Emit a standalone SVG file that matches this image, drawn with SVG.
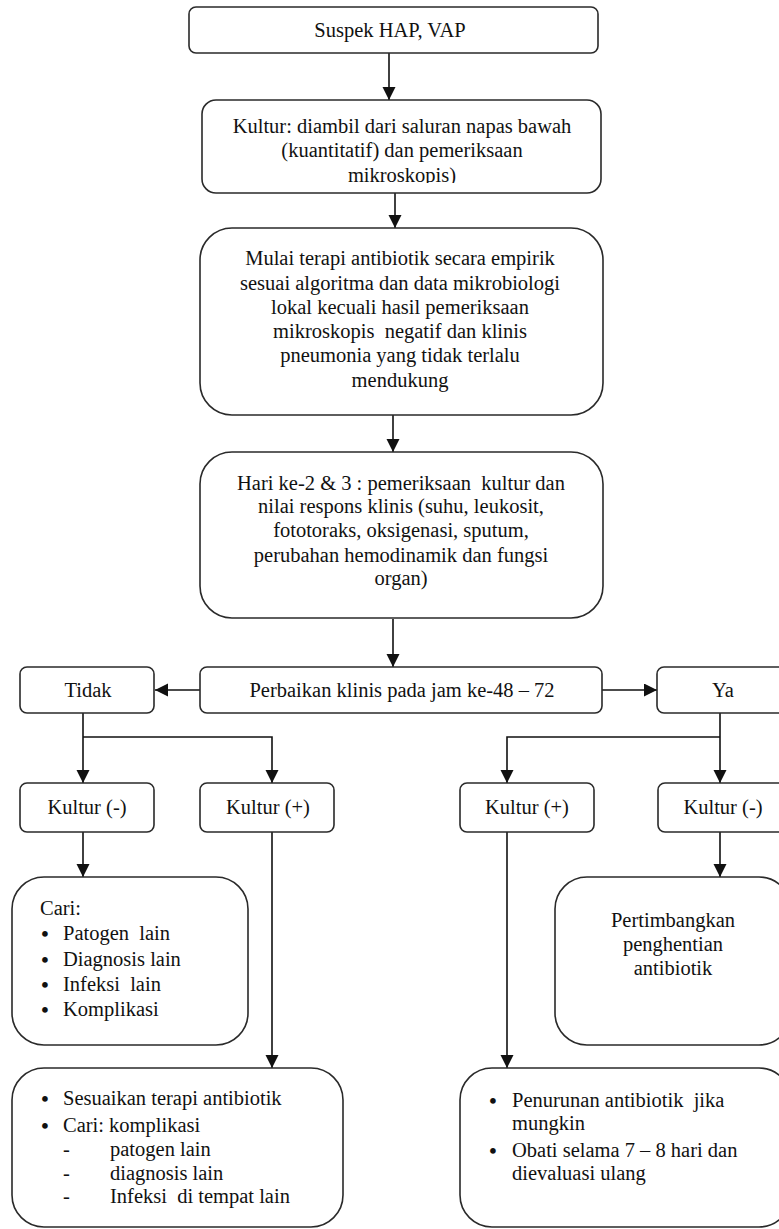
<svg xmlns="http://www.w3.org/2000/svg" width="779" height="1229" viewBox="0 0 779 1229">
<style>
.box{fill:#fff;stroke:#2a2a2a;stroke-width:1.6}
.t{font-family:"Liberation Serif","Times New Roman",serif;font-size:20.5px;fill:#111}
.b{font-family:"Liberation Serif","Times New Roman",serif;font-size:21px;font-weight:bold;fill:#111;text-anchor:middle}
.c{text-anchor:middle}
.ln{fill:none;stroke:#111;stroke-width:1.6}
</style>
<defs>
<marker id="ah" markerUnits="userSpaceOnUse" markerWidth="14" markerHeight="14" refX="13" refY="6.5" orient="auto">
<path d="M0,0 L13,6.5 L0,13 z" fill="#111"/>
</marker>
<clipPath id="cp2"><rect x="202" y="100" width="400" height="83"/></clipPath>
</defs>
<rect width="779" height="1229" fill="#fff"/>

<g id="connectors">
<line class="ln" x1="389" y1="53" x2="389" y2="100" marker-end="url(#ah)"/>
<line class="ln" x1="395" y1="193" x2="395" y2="228" marker-end="url(#ah)"/>
<line class="ln" x1="393" y1="415" x2="393" y2="452" marker-end="url(#ah)"/>
<line class="ln" x1="393" y1="619" x2="393" y2="667" marker-end="url(#ah)"/>
<line class="ln" x1="200" y1="690" x2="155" y2="690" marker-end="url(#ah)"/>
<line class="ln" x1="602" y1="690" x2="657" y2="690" marker-end="url(#ah)"/>
<line class="ln" x1="83" y1="713" x2="83" y2="783" marker-end="url(#ah)"/>
<polyline class="ln" points="83,737 272,737 272,783" marker-end="url(#ah)"/>
<line class="ln" x1="720" y1="713" x2="720" y2="783" marker-end="url(#ah)"/>
<polyline class="ln" points="720,737 507,737 507,783" marker-end="url(#ah)"/>
<line class="ln" x1="83" y1="832" x2="83" y2="877" marker-end="url(#ah)"/>
<line class="ln" x1="272" y1="832" x2="272" y2="1068" marker-end="url(#ah)"/>
<line class="ln" x1="720" y1="832" x2="720" y2="877" marker-end="url(#ah)"/>
<line class="ln" x1="507" y1="832" x2="507" y2="1068" marker-end="url(#ah)"/>
</g>

<g id="n1">
<rect class="box" x="189" y="7" width="409" height="46" rx="7"/>
<text class="t c" x="390" y="37">Suspek HAP, VAP</text>
</g>

<g id="n2">
<rect class="box" x="202" y="100" width="399" height="93" rx="14"/>
<g clip-path="url(#cp2)">
<text class="t c" x="402" y="133">Kultur: diambil dari saluran napas bawah</text>
<text class="t c" x="402" y="157">(kuantitatif) dan pemeriksaan</text>
<text class="t c" x="402" y="182">mikroskopis)</text>
</g>
</g>

<g id="n3">
<rect class="box" x="200" y="228" width="403" height="187" rx="32"/>
<text class="t c" x="400" y="265">Mulai terapi antibiotik secara empirik</text>
<text class="t c" x="400" y="290">sesuai algoritma dan data mikrobiologi</text>
<text class="t c" x="400" y="314">lokal kecuali hasil pemeriksaan</text>
<text class="t c" x="400" y="338" xml:space="preserve">mikroskopis  negatif dan klinis</text>
<text class="t c" x="400" y="362">pneumonia yang tidak terlalu</text>
<text class="t c" x="400" y="387">mendukung</text>
</g>

<g id="n4">
<rect class="box" x="200" y="452" width="403" height="166" rx="32"/>
<text class="t c" x="401" y="490" xml:space="preserve">Hari ke-2 &amp; 3 : pemeriksaan  kultur dan</text>
<text class="t c" x="401" y="513">nilai respons klinis (suhu, leukosit,</text>
<text class="t c" x="401" y="537">fototoraks, oksigenasi, sputum,</text>
<text class="t c" x="401" y="562">perubahan hemodinamik dan fungsi</text>
<text class="t c" x="401" y="585">organ)</text>
</g>

<g id="n5">
<rect class="box" x="200" y="667" width="402" height="46" rx="7"/>
<text class="t c" x="402" y="697">Perbaikan klinis pada jam ke-48 – 72</text>
</g>

<g id="n6">
<rect class="box" x="20" y="667" width="134" height="46" rx="7"/>
<text class="t c" x="88" y="697">Tidak</text>
</g>

<g id="n7">
<rect class="box" x="657" y="667" width="134" height="46" rx="7"/>
<text class="t c" x="723" y="697">Ya</text>
</g>

<g id="n8">
<rect class="box" x="20" y="783" width="134" height="49" rx="7"/>
<text class="t c" x="87" y="814">Kultur (-)</text>
</g>

<g id="n9">
<rect class="box" x="200" y="783" width="134" height="49" rx="7"/>
<text class="t c" x="268" y="814">Kultur (+)</text>
</g>

<g id="n10">
<rect class="box" x="460" y="783" width="134" height="49" rx="7"/>
<text class="t c" x="527" y="814">Kultur (+)</text>
</g>

<g id="n11">
<rect class="box" x="658" y="783" width="134" height="49" rx="7"/>
<text class="t c" x="723" y="814">Kultur (-)</text>
</g>

<g id="n12">
<rect class="box" x="12" y="877" width="236" height="168" rx="32"/>
<text class="t" x="40" y="915">Cari:</text>
<text class="b" x="45" y="941">•</text><text class="t" x="63" y="940" xml:space="preserve">Patogen  lain</text>
<text class="b" x="45" y="967">•</text><text class="t" x="63" y="966">Diagnosis lain</text>
<text class="b" x="45" y="992">•</text><text class="t" x="63" y="991" xml:space="preserve">Infeksi  lain</text>
<text class="b" x="45" y="1017">•</text><text class="t" x="63" y="1016">Komplikasi</text>
</g>

<g id="n13">
<rect class="box" x="555" y="877" width="236" height="168" rx="32"/>
<text class="t c" x="673" y="927">Pertimbangkan</text>
<text class="t c" x="673" y="951">penghentian</text>
<text class="t c" x="673" y="975">antibiotik</text>
</g>

<g id="n14">
<rect class="box" x="12" y="1068" width="331" height="159" rx="32"/>
<text class="b" x="45" y="1106">•</text><text class="t" x="63" y="1105">Sesuaikan terapi antibiotik</text>
<text class="b" x="45" y="1133">•</text><text class="t" x="63" y="1132">Cari: komplikasi</text>
<text class="t" x="63" y="1156">-</text><text class="t" x="110" y="1156">patogen lain</text>
<text class="t" x="63" y="1180">-</text><text class="t" x="110" y="1180">diagnosis lain</text>
<text class="t" x="63" y="1203">-</text><text class="t" x="110" y="1203" xml:space="preserve">Infeksi  di tempat lain</text>
</g>

<g id="n15">
<rect class="box" x="460" y="1068" width="331" height="159" rx="32"/>
<text class="b" x="493" y="1108">•</text><text class="t" x="512" y="1107" xml:space="preserve">Penurunan antibiotik  jika</text>
<text class="t" x="512" y="1130">mungkin</text>
<text class="b" x="493" y="1158">•</text><text class="t" x="512" y="1157">Obati selama 7 – 8 hari dan</text>
<text class="t" x="512" y="1180">dievaluasi ulang</text>
</g>
</svg>
